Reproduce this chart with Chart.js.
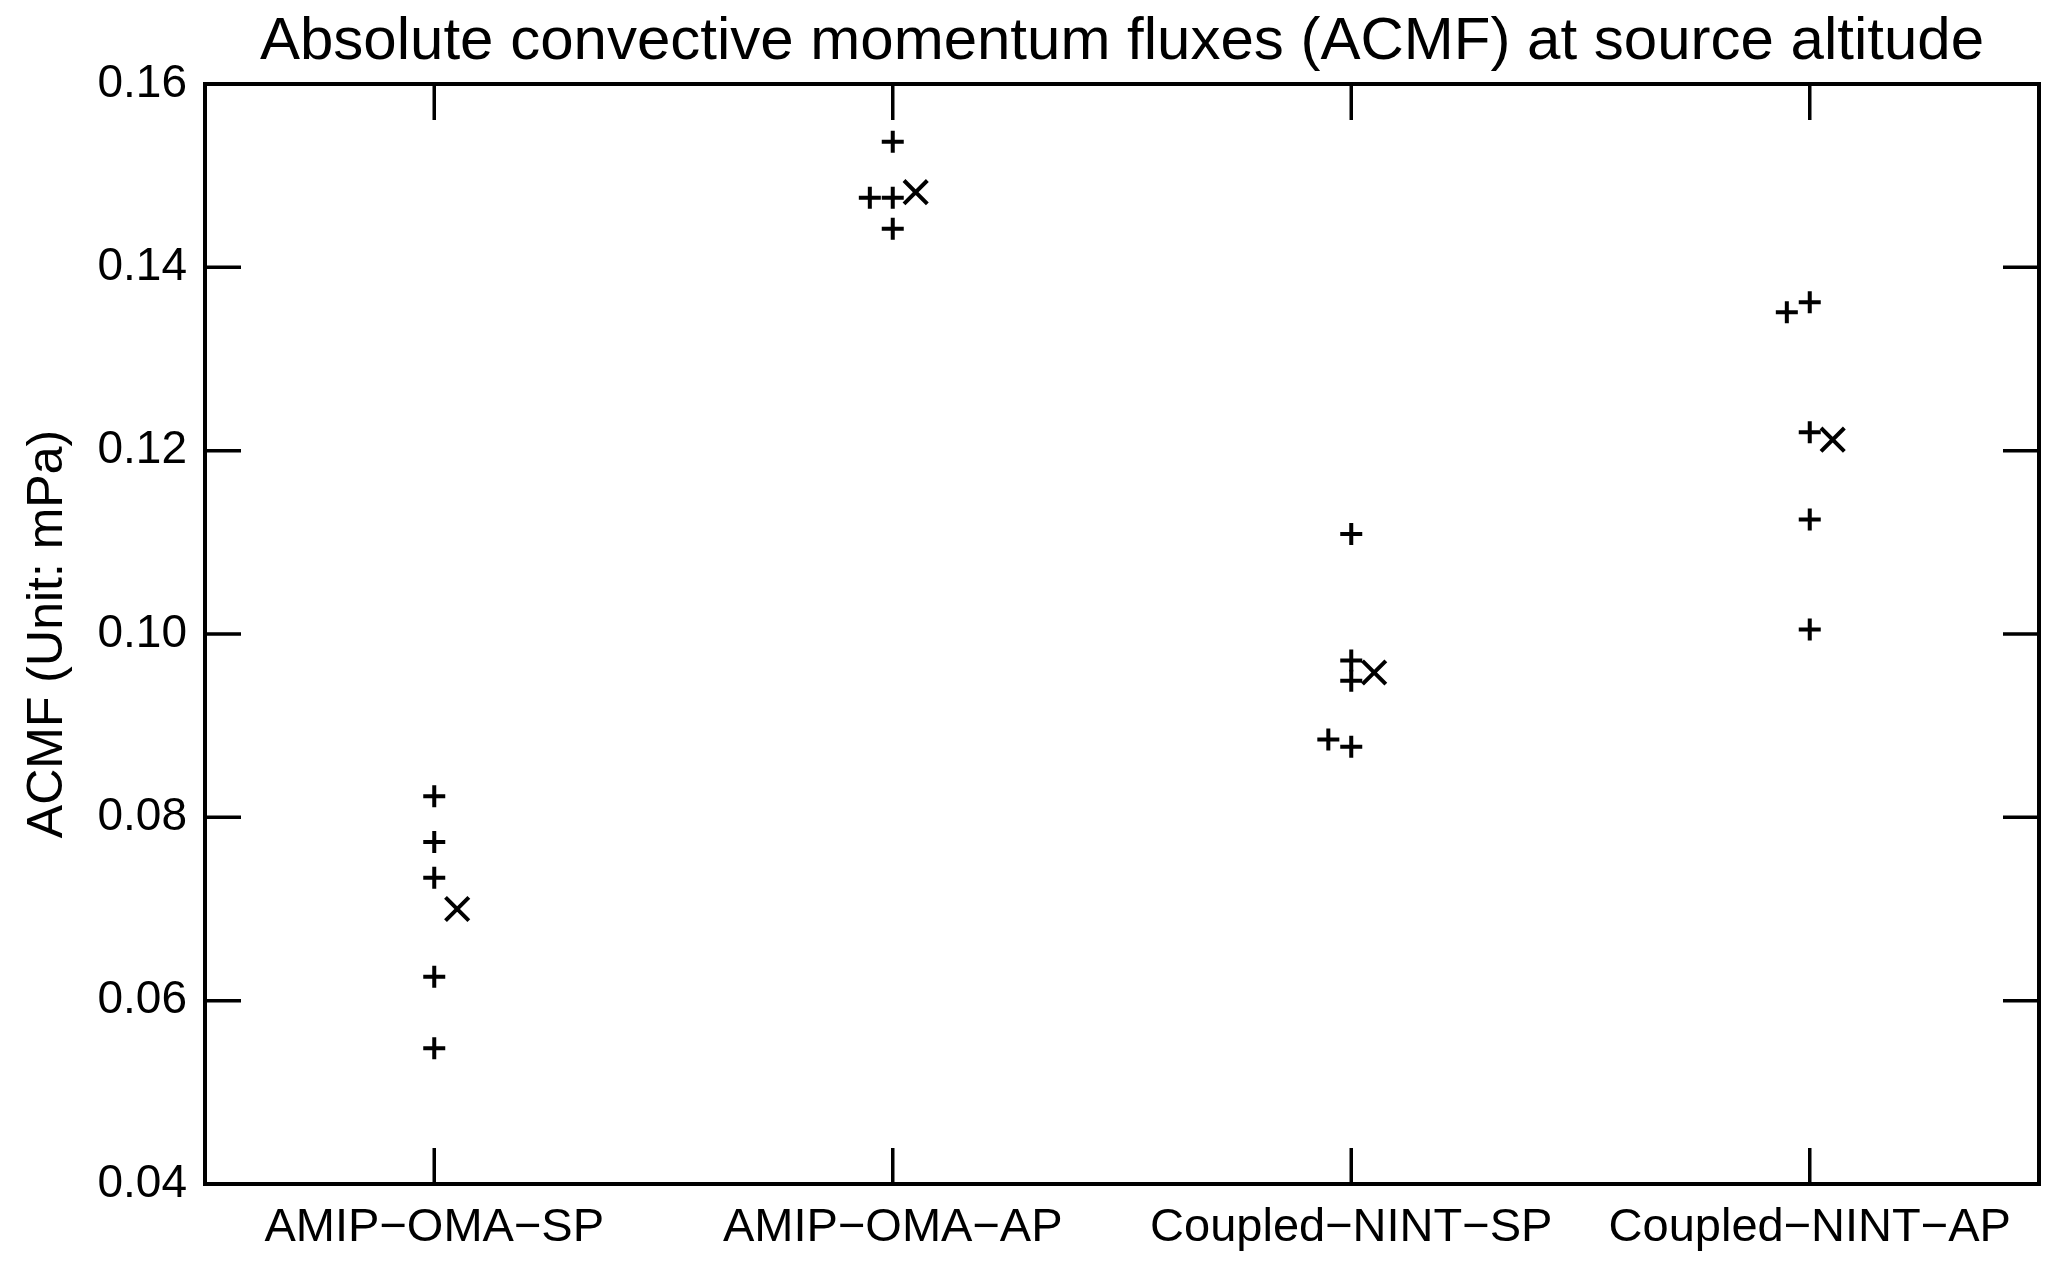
<!DOCTYPE html>
<html>
<head>
<meta charset="utf-8">
<title>ACMF at source altitude</title>
<script src="https://cdn.jsdelivr.net/npm/chart.js@4/dist/chart.umd.min.js"></script>
<style>
  body { margin: 0; background: #fff; }
  #wrap { width: 2067px; height: 1271px; position: relative; }
</style>
</head>
<body>
<div id="wrap"><canvas id="chart"></canvas></div>
<script>
// categories along the x axis
const categories = ["AMIP\u2212OMA\u2212SP", "AMIP\u2212OMA\u2212AP", "Coupled\u2212NINT\u2212SP", "Coupled\u2212NINT\u2212AP"]

// individual members (plus markers), mPa
const amipSP = [0.0823, 0.0773, 0.0734, 0.0626, 0.0548]
const amipAP = [0.1537, 0.1476, 0.1476, 0.1442]
const coupledSP = [0.1109, 0.0971, 0.0949, 0.0877, 0.0885]
const coupledAP = [0.1362, 0.1351, 0.1220, 0.1125, 0.1005]

// ensemble means (x markers)
const means = [0.0700, 0.1482, 0.0958, 0.1212]

// y tick values
const yTicks = [0.04, 0.06, 0.08, 0.10, 0.12, 0.14, 0.16]

const FONT = "'Liberation Sans', Arial, Helvetica, sans-serif"

// points that nearly overlap an earlier one get nudged left, like the original
function membersToPoints(groups) {
  const pts = []
  groups.forEach((vals, gi) => {
    vals.forEach((v, i) => {
      let shift = 0
      for (let j = 0; j < i; j++) {
        if (Math.abs(vals[j] - v) < 0.0015) shift++
      }
      pts.push({ x: gi + 1 - 0.05 * shift, y: v })
    })
  })
  return pts
}

const memberPoints = membersToPoints([amipSP, amipAP, coupledSP, coupledAP])
const meanPoints = means.map((v, i) => ({ x: i + 1 + 0.05, y: v }))

// frame + inward ticks on all four sides
const frameTicks = {
  id: "frameTicks",
  afterDraw(chart) {
    const { ctx, chartArea: a, scales } = chart
    const len = 36
    ctx.save()
    ctx.strokeStyle = "#000"
    ctx.lineWidth = 3.5
    ctx.beginPath()
    scales.x.ticks.forEach((t) => {
      const px = scales.x.getPixelForValue(t.value)
      ctx.moveTo(px, a.bottom); ctx.lineTo(px, a.bottom - len)
      ctx.moveTo(px, a.top); ctx.lineTo(px, a.top + len)
    })
    scales.y.ticks.forEach((t) => {
      const py = scales.y.getPixelForValue(t.value)
      ctx.moveTo(a.left, py); ctx.lineTo(a.left + len, py)
      ctx.moveTo(a.right, py); ctx.lineTo(a.right - len, py)
    })
    ctx.stroke()
    ctx.lineWidth = 4
    ctx.strokeRect(a.left, a.top, a.right - a.left, a.bottom - a.top)
    ctx.restore()
  }
}

const ctx = document.getElementById("chart").getContext("2d")
new Chart(ctx, {
  type: "scatter",
  data: {
    datasets: [
      {
        label: "members",
        data: memberPoints,
        pointStyle: "cross",
        pointRadius: 11,
        borderColor: "#000",
        backgroundColor: "#000",
        borderWidth: 4,
      },
      {
        label: "mean",
        data: meanPoints,
        pointStyle: "crossRot",
        pointRadius: 16.5,
        borderColor: "#000",
        backgroundColor: "#000",
        borderWidth: 4,
      },
    ],
  },
  options: {
    responsive: true,
    maintainAspectRatio: false,
    animation: false,
    layout: { padding: { left: 0, right: 28, top: 0, bottom: 0 } },
    plugins: {
      legend: { display: false },
      tooltip: { enabled: false },
      title: { display: false },
    },
    scales: {
      x: {
        type: "linear",
        min: 0.5,
        max: 4.5,
        afterBuildTicks: (scale) => {
          scale.ticks = categories.map((c, i) => ({ value: i + 1 }))
        },
        afterFit: (scale) => { scale.height = 87 },
        grid: { display: false, drawTicks: false },
        border: { display: false },
        ticks: {
          color: "#000",
          padding: 16,
          maxRotation: 0,
          font: { family: FONT, size: 47 },
          callback: (v) => categories[Math.round(v) - 1],
        },
      },
      // top axis only carries the title, centred over the plot area
      xTop: {
        type: "linear",
        position: "top",
        min: 0.5,
        max: 4.5,
        afterFit: (scale) => { scale.height = 84 },
        grid: { display: false, drawTicks: false },
        border: { display: false },
        ticks: { display: false },
        title: {
          display: true,
          text: "Absolute convective momentum fluxes (ACMF) at source altitude",
          color: "#000",
          font: { family: FONT, size: 60, lineHeight: 1.2 },
          padding: { top: 6, bottom: 0 },
        },
      },
      y: {
        type: "linear",
        min: 0.04,
        max: 0.16,
        afterBuildTicks: (scale) => {
          scale.ticks = yTicks.map((v) => ({ value: v }))
        },
        afterFit: (scale) => { scale.width = 205 },
        grid: { display: false, drawTicks: false },
        border: { display: false },
        ticks: {
          color: "#000",
          padding: 18,
          font: { family: FONT, size: 46 },
          callback: (v) => v.toFixed(2),
        },
        title: {
          display: true,
          text: "ACMF (Unit: mPa)",
          color: "#000",
          font: { family: FONT, size: 50, lineHeight: 1.2 },
          padding: { top: 18, bottom: 0 },
        },
      },
    },
  },
  plugins: [frameTicks],
})
</script>
</body>
</html>
